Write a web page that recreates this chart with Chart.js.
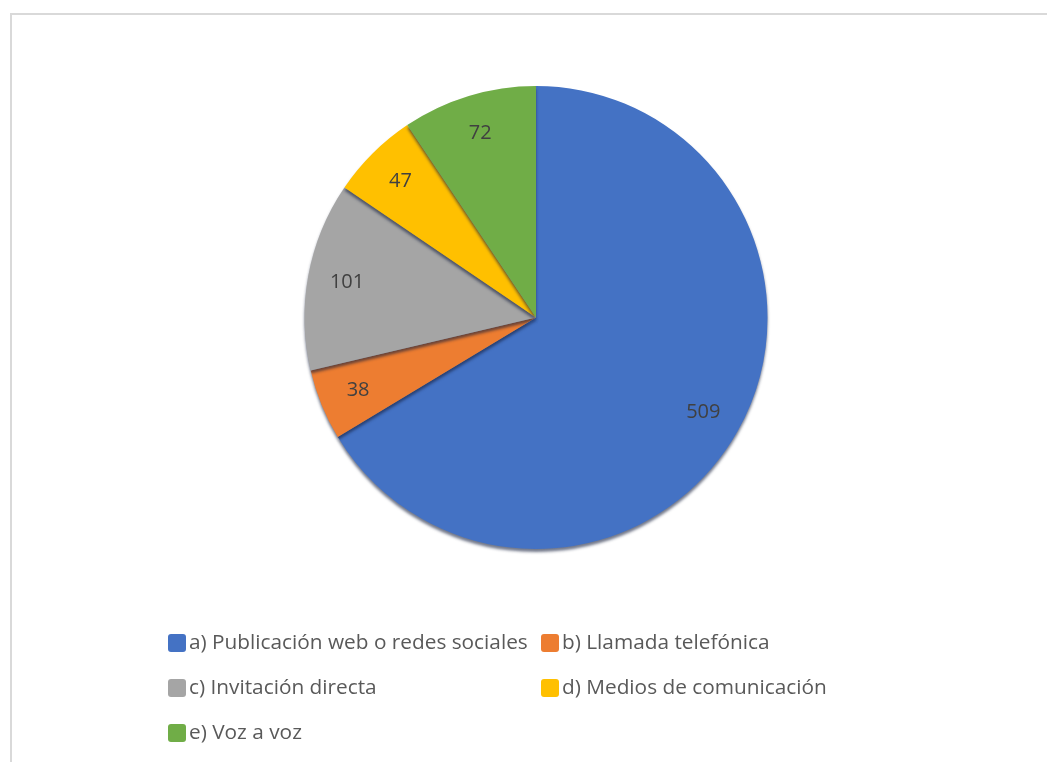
<!DOCTYPE html>
<html>
<head>
<meta charset="utf-8">
<script src="https://cdn.jsdelivr.net/npm/chart.js@4.4.0/dist/chart.umd.min.js"></script>
<style>
  html, body { margin: 0; padding: 0; background: #fff; overflow: hidden; }
  #frame {
    position: absolute; left: 10px; top: 13px; width: 1100px; height: 800px;
    border-left: 2px solid #d9d9d9; border-top: 2px solid #d9d9d9;
  }
  #wrap { position: absolute; left: 0; top: 0; width: 1047px; height: 762px; }
</style>
</head>
<body>
<div id="frame"></div>
<div id="wrap"><canvas id="chart" width="1047" height="762"></canvas></div>
<script>
const categories = [
  'a) Publicación web o redes sociales',
  'b) Llamada telefónica',
  'c) Invitación directa',
  'd) Medios de comunicación',
  'e) Voz a voz'
];
const values = [509, 38, 101, 47, 72];
const colors = ['#4472C4', '#ED7D31', '#A5A5A5', '#FFC000', '#70AD47'];

// where each legend entry sits (column x, row y)
const legendSlots = [[168, 643], [541, 643], [168, 688], [541, 688], [168, 733]];

const shadowPlugin = {
  id: 'pieShadow',
  beforeDatasetDraw(chart) {
    const ctx = chart.ctx;
    ctx.save();
    ctx.shadowColor = 'rgba(20,30,60,0.6)';
    ctx.shadowBlur = 3;
    ctx.shadowOffsetY = 3;
  },
  afterDatasetDraw(chart) {
    chart.ctx.restore();
  }
};

const labelPlugin = {
  id: 'sliceLabels',
  afterDatasetsDraw(chart) {
    const ctx = chart.ctx;
    const meta = chart.getDatasetMeta(0);
    ctx.save();
    ctx.font = '20px "Open Sans", sans-serif';
    ctx.fillStyle = '#404040';
    ctx.textAlign = 'center';
    ctx.textBaseline = 'middle';
    meta.data.forEach((arc, i) => {
      const mid = (arc.startAngle + arc.endAngle) / 2;
      const d = arc.outerRadius * 0.83;
      ctx.fillText(String(values[i]), arc.x + Math.cos(mid) * d, arc.y + Math.sin(mid) * d);
    });
    ctx.restore();
  }
};

const legendPlugin = {
  id: 'gridLegend',
  afterDraw(chart) {
    const ctx = chart.ctx;
    ctx.save();
    ctx.font = '20.8px "Open Sans", sans-serif';
    ctx.textBaseline = 'middle';
    categories.forEach((name, i) => {
      const [x, y] = legendSlots[i];
      ctx.fillStyle = colors[i];
      ctx.beginPath();
      ctx.roundRect(x, y - 9, 18, 18, 3);
      ctx.fill();
      ctx.fillStyle = '#595959';
      ctx.fillText(name, x + 21, y);
    });
    ctx.restore();
  }
};

new Chart(document.getElementById('chart'), {
  type: 'pie',
  data: {
    labels: categories,
    datasets: [{
      data: values,
      backgroundColor: colors,
      borderWidth: 0
    }]
  },
  options: {
    responsive: false,
    animation: false,
    layout: { padding: { left: 304, right: 279, top: 86, bottom: 213 } },
    plugins: {
      legend: { display: false },
      tooltip: { enabled: false }
    }
  },
  plugins: [shadowPlugin, labelPlugin, legendPlugin]
});
</script>
</body>
</html>
